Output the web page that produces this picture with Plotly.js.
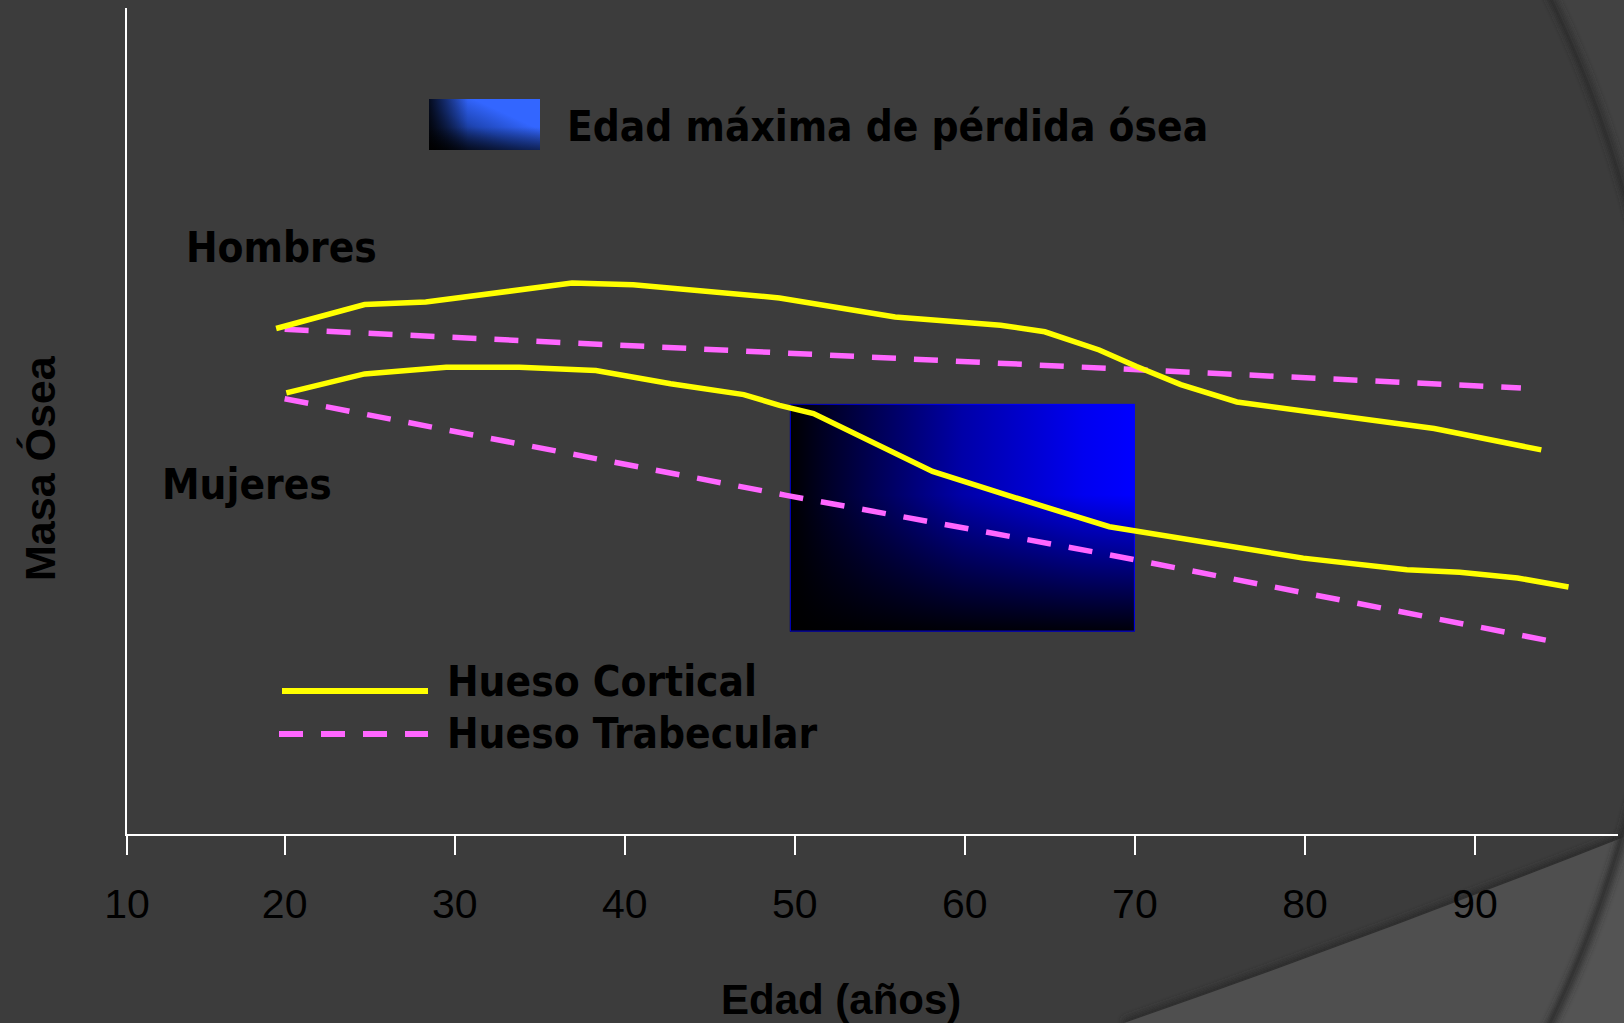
<!DOCTYPE html>
<html>
<head>
<meta charset="utf-8">
<script src="https://cdn.plot.ly/plotly-3.0.1.min.js"></script>
<style>
  html, body { margin: 0; padding: 0; background: #3c3c3c; }
  #chart { width: 1624px; height: 1023px; }
</style>
</head>
<body>
<div id="chart"></div>
<script>
// Age axis (years) and relative bone mass (arbitrary units, 0 at the age axis)
const tickAges = [10, 20, 30, 40, 50, 60, 70, 80, 90];
const tickLabels = ['10', '20', '30', '40', '50', '60', '70', '80', '90'];

// Men – cortical bone
const menCorticalAge  = [19.5, 24.7, 28.3, 36.9, 40.5, 44.6, 49.1, 55.9, 62.1, 64.7, 67.9, 70.1, 72.7, 76.0, 79.7, 87.6, 93.9];
const menCorticalMass = [61.2, 64.1, 64.4, 66.7, 66.5, 65.8, 64.9, 62.6, 61.6, 60.8, 58.6, 56.6, 54.4, 52.3, 51.3, 49.1, 46.5];

// Men – trabecular bone
const menTrabecularAge  = [20.0, 50.0, 68.0, 92.7];
const menTrabecularMass = [61.1, 58.2, 56.4, 54.0];

// Women – cortical bone
const womenCorticalAge  = [20.1, 24.7, 29.5, 33.8, 38.3, 42.7, 47.0, 49.1, 51.1, 58.1, 63.3, 68.5, 79.9, 86.0, 89.1, 92.5, 95.5];
const womenCorticalMass = [53.4, 55.7, 56.5, 56.5, 56.1, 54.5, 53.2, 51.9, 50.9, 43.9, 40.5, 37.2, 33.4, 32.0, 31.7, 31.0, 29.9];

// Women – trabecular bone
const womenTrabecularAge  = [20.0, 49.5, 68.0, 79.7, 94.6];
const womenTrabecularMass = [52.7, 41.0, 34.0, 29.3, 23.3];

// Age window of maximum bone loss and its vertical extent
const maxLossAges = [49.7, 70.0];
const maxLossMass = [24.5, 52.1];

// Colours
const corticalColor = '#ffff00';
const trabecularColor = '#ff66ff';
const inkColor = '#000000';
const axisColor = '#ffffff';

// ---- layout geometry (pixels) ----
const W = 1624, H = 1023;
const PL = 127, PT = 8, PW = 1491, PH = 826;
const xRange = [10.73, 98.41];
const yRange = [0, 100];
const px = v => (v - PL) / PW;          // pixel x -> paper x
const py = v => (PT + PH - v) / PH;     // pixel y -> paper y

// Origin tick sits at the corner of the axes
const tickPositions = tickAges.map(a => Math.max(a, xRange[0]));

function svgUri(svg) {
  return 'data:image/svg+xml;charset=utf-8,' + encodeURIComponent(svg);
}

// Slide backdrop: dark panel, large framing circle and lower-right sweep
const backdropSvg =
  '<svg xmlns="http://www.w3.org/2000/svg" width="' + W + '" height="' + H + '" viewBox="0 0 ' + W + ' ' + H + '" preserveAspectRatio="none">' +
  '<defs><filter id="b" x="-5%" y="-5%" width="110%" height="110%"><feGaussianBlur stdDeviation="3"/></filter>' +
  '<clipPath id="c"><rect width="' + W + '" height="' + H + '"/></clipPath></defs>' +
  '<rect width="' + W + '" height="' + H + '" fill="#3c3c3c"/>' +
  '<g clip-path="url(#c)">' +
  '<path d="M1124,1023 Q1374,936 1624,837" fill="none" stroke="#2a2a2a" stroke-width="8" filter="url(#b)"/>' +
  '<path d="M1124,1023 Q1374,936 1624,837 L1624,1023 Z" fill="#4f4f4f"/>' +
  '<circle cx="492" cy="510" r="1177" fill="none" stroke="#2c2c2c" stroke-width="8" filter="url(#b)"/>' +
  '<path fill-rule="evenodd" fill="rgba(255,255,255,0.03)" d="M0,0 H' + W + ' V' + H + ' H0 Z M' + (492 - 1177) + ',510 a1177,1177 0 1,0 2354,0 a1177,1177 0 1,0 -2354,0 Z"/>' +
  '</g></svg>';

// Blue gradient block (age window of maximum loss)
const blockSvg =
  '<svg xmlns="http://www.w3.org/2000/svg" width="345" height="228" viewBox="0 0 345 228" preserveAspectRatio="none">' +
  '<defs>' +
  '<linearGradient id="h" x1="0" y1="0" x2="1" y2="0">' +
  '<stop offset="0" stop-color="#000000"/><stop offset="0.12" stop-color="#00002a"/>' +
  '<stop offset="0.5" stop-color="#0000a8"/><stop offset="0.85" stop-color="#0000f0"/><stop offset="1" stop-color="#0000ff"/></linearGradient>' +
  '<linearGradient id="v" x1="0" y1="0" x2="0" y2="1">' +
  '<stop offset="0" stop-color="#000" stop-opacity="0"/><stop offset="0.4" stop-color="#000" stop-opacity="0"/>' +
  '<stop offset="1" stop-color="#000" stop-opacity="0.97"/></linearGradient>' +
  '</defs>' +
  '<rect width="345" height="228" fill="url(#h)"/>' +
  '<rect width="345" height="228" fill="url(#v)"/>' +
  '<rect x="0.5" y="0.5" width="344" height="227" fill="none" stroke="#0000ff" stroke-width="1"/>' +
  '</svg>';

// Small swatch for the top key
const swatchSvg =
  '<svg xmlns="http://www.w3.org/2000/svg" width="112" height="51" viewBox="0 0 112 51" preserveAspectRatio="none">' +
  '<defs>' +
  '<linearGradient id="d" x1="0" y1="1" x2="1" y2="0">' +
  '<stop offset="0" stop-color="#000000"/><stop offset="0.45" stop-color="#1f47b8"/>' +
  '<stop offset="0.7" stop-color="#3366ff"/><stop offset="1" stop-color="#3366ff"/></linearGradient>' +
  '<linearGradient id="l" x1="0" y1="0" x2="1" y2="0">' +
  '<stop offset="0" stop-color="#000" stop-opacity="0.85"/><stop offset="0.35" stop-color="#000" stop-opacity="0"/></linearGradient>' +
  '<linearGradient id="bt" x1="0" y1="0" x2="0" y2="1">' +
  '<stop offset="0.55" stop-color="#000" stop-opacity="0"/><stop offset="1" stop-color="#000" stop-opacity="0.55"/></linearGradient>' +
  '</defs>' +
  '<rect width="112" height="51" fill="url(#d)"/>' +
  '<rect width="112" height="51" fill="url(#l)"/>' +
  '<rect width="112" height="51" fill="url(#bt)"/>' +
  '</svg>';

const lineTrace = (x, y, name, color, dash, legendgroup, showlegend) => ({
  type: 'scatter', mode: 'lines', x, y, name,
  legendgroup, showlegend,
  line: { color, width: 5.5, dash },
  hoverinfo: 'skip'
});

const dashPattern = '24px,18px';

const data = [
  lineTrace(menTrabecularAge, menTrabecularMass, 'Hueso Trabecular', trabecularColor, dashPattern, 'trab', false),
  lineTrace(womenTrabecularAge, womenTrabecularMass, 'Hueso Trabecular', trabecularColor, dashPattern, 'trab', false),
  lineTrace(menCorticalAge, menCorticalMass, 'Hueso Cortical', corticalColor, 'solid', 'cort', false),
  lineTrace(womenCorticalAge, womenCorticalMass, 'Hueso Cortical', corticalColor, 'solid', 'cort', false)
];

const keyFont = { family: '"DejaVu Sans Condensed", "DejaVu Sans", sans-serif', size: 42, color: inkColor, weight: 'bold' };
const arialBold = { family: '"Liberation Sans", Arial, sans-serif', size: 42, color: inkColor, weight: 'bold' };

const note = (text, x, y, font, extra) => Object.assign({
  text, xref: 'paper', yref: 'paper', x, y,
  xanchor: 'left', yanchor: 'middle', showarrow: false, borderpad: 0, font
}, extra || {});

const layout = {
  width: W, height: H,
  margin: { l: PL, r: W - PL - PW, t: PT, b: H - PT - PH, pad: 0 },
  paper_bgcolor: 'rgba(0,0,0,0)',
  plot_bgcolor: 'rgba(0,0,0,0)',
  showlegend: false,
  xaxis: {
    range: xRange, fixedrange: true,
    showgrid: false, zeroline: false,
    showline: true, linecolor: axisColor, linewidth: 2,
    ticks: 'outside', ticklen: 19, tickwidth: 2, tickcolor: axisColor,
    tickvals: tickPositions, ticktext: tickLabels,
    ticklabelstandoff: 14,
    tickfont: { family: '"Liberation Sans", Arial, sans-serif', size: 41, color: inkColor }
  },
  yaxis: {
    range: yRange, fixedrange: true,
    showgrid: false, zeroline: false,
    showline: true, linecolor: axisColor, linewidth: 2,
    ticks: '', showticklabels: false
  },
  images: [
    { source: svgUri(backdropSvg), xref: 'paper', yref: 'paper',
      x: px(0), y: py(0), sizex: W / PW, sizey: H / PH,
      xanchor: 'left', yanchor: 'top', sizing: 'stretch', layer: 'below' },
    { source: svgUri(blockSvg), xref: 'x', yref: 'y',
      x: maxLossAges[0], y: maxLossMass[1],
      sizex: maxLossAges[1] - maxLossAges[0], sizey: maxLossMass[1] - maxLossMass[0],
      xanchor: 'left', yanchor: 'top', sizing: 'stretch', layer: 'below' },
    { source: svgUri(swatchSvg), xref: 'paper', yref: 'paper',
      x: px(429), y: py(99), sizex: 111 / PW, sizey: 51 / PH,
      xanchor: 'left', yanchor: 'top', sizing: 'stretch', layer: 'above' }
  ],
  shapes: [
    { type: 'line', xref: 'paper', yref: 'paper',
      x0: px(282), x1: px(428), y0: py(691), y1: py(691),
      line: { color: corticalColor, width: 6 } },
    { type: 'line', xref: 'paper', yref: 'paper',
      x0: px(279), x1: px(428), y0: py(734), y1: py(734),
      line: { color: trabecularColor, width: 6, dash: dashPattern } }
  ],
  annotations: [
    note('Edad máxima de pérdida ósea', px(566), py(126), keyFont),
    note('Hombres', px(185), py(247), keyFont),
    note('Mujeres', px(161), py(484), keyFont),
    note('Hueso Cortical', px(446), py(681), keyFont),
    note('Hueso Trabecular', px(446), py(733), keyFont),
    note('Edad (años)', px(841), py(999), arialBold, { xanchor: 'center' }),
    note('Masa Ósea', px(40), py(468), Object.assign({}, arialBold, { size: 43 }), { xanchor: 'center', textangle: -90 })
  ]
};

Plotly.newPlot('chart', data, layout, { staticPlot: true, displayModeBar: false });
</script>
</body>
</html>
